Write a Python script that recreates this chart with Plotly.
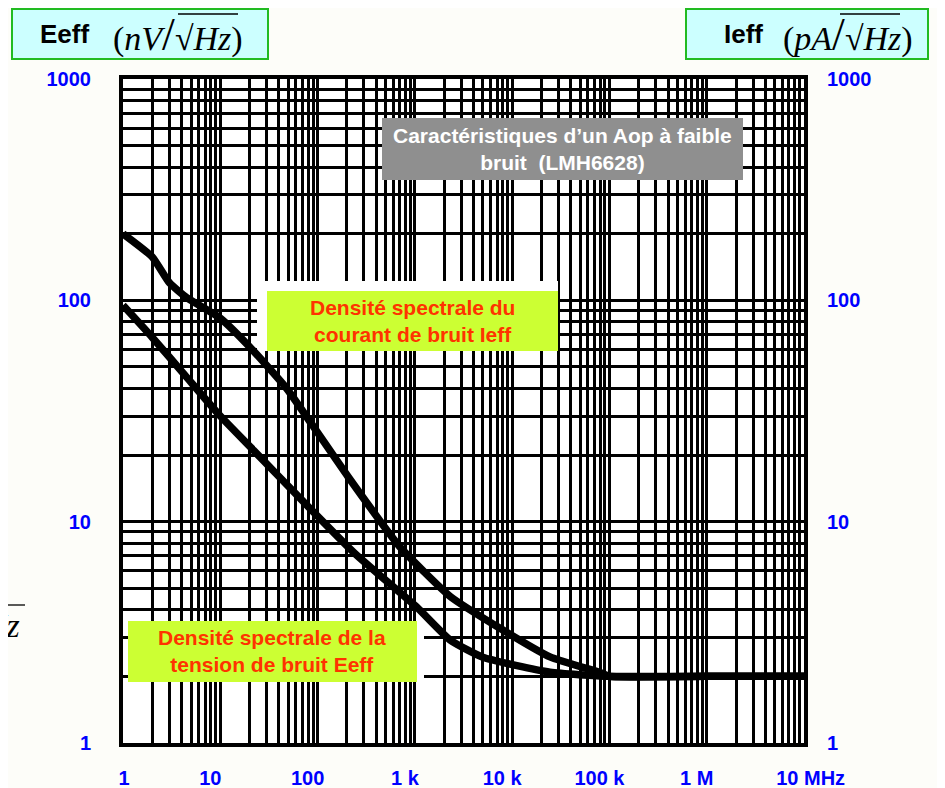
import plotly.graph_objects as go

# ---------------- data ----------------
freq_ieff = [1, 2, 3, 4.5, 10, 22, 48, 90, 205, 700, 2300, 7500, 24500, 80000, 100000, 1e6, 1e7]
ieff_vals = [200, 157, 120, 103, 83, 59, 40, 27, 16, 7.7, 4.6, 3.3, 2.45, 2.08, 2.0, 2.0, 2.0]

freq_eeff = [1, 2, 4.5, 10, 22, 69, 240, 1050, 2300, 5000, 24500, 100000, 1e6, 1e7]
eeff_vals = [95, 68, 45, 30, 21, 12.5, 7.2, 4.1, 2.92, 2.44, 2.09, 2.0, 2.0, 2.0]

x_tick_vals = [1, 10, 100, 1e3, 1e4, 1e5, 1e6, 1e7]
x_tick_text = ["\u00a0" * 4 + "1", "10", "100", "1 k", "10 k", "100 k", "1 M", "\u00a0" * 6 + "10 MHz"]
y_tick_vals = [1, 10, 100, 1000]
y_tick_text = ["1", "10", "100", "1000"]

x_minor = [m * 10 ** k for k in range(7) for m in range(2, 10)]
y_minor = [m * 10 ** k for k in range(3) for m in range(2, 10)]

# ---------------- layout helpers ----------------
# page has an 8px body margin; reference pixel coords are converted to paper fractions
OFF = 8
L, R, T, B = 123, 804, 79, 743          # plot area in page pixels
W, H = 945 - OFF, 788 - OFF


def px(x):
    return (x - L) / (R - L)


def py(y):
    return (B - y) / (B - T)


def dx(x):  # page pixel -> data frequency (log x axis, 7 decades)
    return 10 ** (7 * px(x))


def dy(y):  # page pixel -> data value (log y axis, 3 decades)
    return 10 ** (3 * py(y))


BLUE = "#0000ff"
tickfont = dict(family="Arial, Liberation Sans", size=20, color=BLUE, weight="bold")

fig = go.Figure()
fig.add_trace(go.Scatter(x=freq_eeff, y=eeff_vals, mode="lines",
                         line=dict(color="black", width=7.5, shape="spline", smoothing=0.5),
                         name="Eeff", showlegend=False))
fig.add_trace(go.Scatter(x=freq_ieff, y=ieff_vals, mode="lines", yaxis="y2",
                         line=dict(color="black", width=7.5, shape="spline", smoothing=0.5),
                         name="Ieff", showlegend=False))

axis_common = dict(showline=True, linecolor="black", linewidth=4, mirror=True, zeroline=False,
                   automargin=False)

fig.update_layout(
    width=W, height=H,
    margin=dict(l=L - OFF, r=W - (R - OFF), t=T - OFF, b=H - (B - OFF)),
    paper_bgcolor="#fdfdf9",
    plot_bgcolor="white",
    xaxis=dict(type="log", range=[0, 7], tickmode="array", tickvals=x_tick_vals, ticktext=x_tick_text,
               showgrid=True, gridcolor="black", gridwidth=2.5, ticks="", tickfont=tickfont,
               ticklabelstandoff=14, ticklabelshift=-10,
               minor=dict(tickmode="array", tickvals=x_minor, showgrid=True, gridcolor="black",
                          gridwidth=2.5, ticks=""),
               **axis_common),
    yaxis=dict(type="log", range=[0, 3], tickmode="array", tickvals=y_tick_vals, ticktext=y_tick_text,
               showgrid=True, gridcolor="black", gridwidth=2.5, ticks="", tickfont=tickfont,
               ticklabelstandoff=24,
               minor=dict(tickmode="array", tickvals=y_minor, showgrid=True, gridcolor="black",
                          gridwidth=2.5, ticks=""),
               **axis_common),
    yaxis2=dict(type="log", range=[0, 3], overlaying="y", side="right", tickmode="array",
                tickvals=y_tick_vals, ticktext=y_tick_text, showgrid=False, ticks="",
                tickfont=tickfont, ticklabelstandoff=22, showline=False, zeroline=False,
                automargin=False),
)

shapes = []


def rect_data(x0, y0, x1, y1, fill):
    # boxes inside the plot: above the grid, below the curves
    shapes.append(dict(type="rect", xref="x", yref="y",
                       x0=dx(x0), x1=dx(x1), y0=dy(y1), y1=dy(y0),
                       fillcolor=fill, layer="between", line=dict(width=0)))


def rect_paper(x0, y0, x1, y1, fill, line_color=None, lw=0):
    shapes.append(dict(type="rect", xref="paper", yref="paper",
                       x0=px(x0), x1=px(x1), y0=py(y1), y1=py(y0),
                       fillcolor=fill, layer="above",
                       line=dict(color=line_color or fill, width=lw)))


rect_data(257, 281, 558, 351, "white")
rect_data(267, 291, 558, 351, "#ccff33")
rect_data(128, 621, 417, 682, "#ccff33")
rect_data(417, 621, 424, 682, "white")
rect_paper(382, 118, 743, 180, "#8f8f8f")
# header boxes
rect_paper(12, 9, 268, 59, "#ccffff", "#22bb22", 2)
rect_paper(686, 9, 928, 59, "#ccffff", "#22bb22", 2)


def hline(x0, x1, y, w=1.3):
    shapes.append(dict(type="line", xref="paper", yref="paper", x0=px(x0), x1=px(x1),
                       y0=py(y), y1=py(y), line=dict(color="black", width=w), layer="above"))


# overlines of the square roots
hline(178, 238, 14)
hline(840, 900, 14)
hline(0, 25, 605)

fig.update_layout(shapes=shapes)

RED = "#ff3300"
SERIF = "Liberation Serif, Times New Roman, serif"
ARIAL = "Arial, Liberation Sans"


def ann(text, x, y, size, color, family=ARIAL, bold=True, xanchor="center", yanchor="middle"):
    fig.add_annotation(text=text, xref="paper", yref="paper", x=px(x), y=py(y),
                       xanchor=xanchor, yanchor=yanchor, showarrow=False,
                       font=dict(family=family, size=size, color=color,
                                 weight="bold" if bold else "normal"))


ann("Caractéristiques d’un Aop à faible<br>bruit  (LMH6628)", 562, 149, 21, "white")
ann("Densité spectrale du<br>courant de bruit Ieff", 412, 321, 21, RED)
ann("Densité spectrale de la<br>tension de bruit Eeff", 272, 651, 21, RED)

ann("Eeff", 38, 34, 26, "black", xanchor="left")
ann("(<i>nV</i><span style='font-size:46px'>/</span>√<i>Hz</i>)", 111, 34, 34, "black",
    family=SERIF, bold=False, xanchor="left")
ann("Ieff", 722, 34, 26, "black", xanchor="left")
ann("(<i>pA</i><span style='font-size:46px'>/</span>√<i>Hz</i>)", 781, 34, 34, "black",
    family=SERIF, bold=False, xanchor="left")
ann("<i>Hz</i>", 22, 625, 34, "black", family=SERIF, bold=False, xanchor="right")

fig.write_html("out.html")
